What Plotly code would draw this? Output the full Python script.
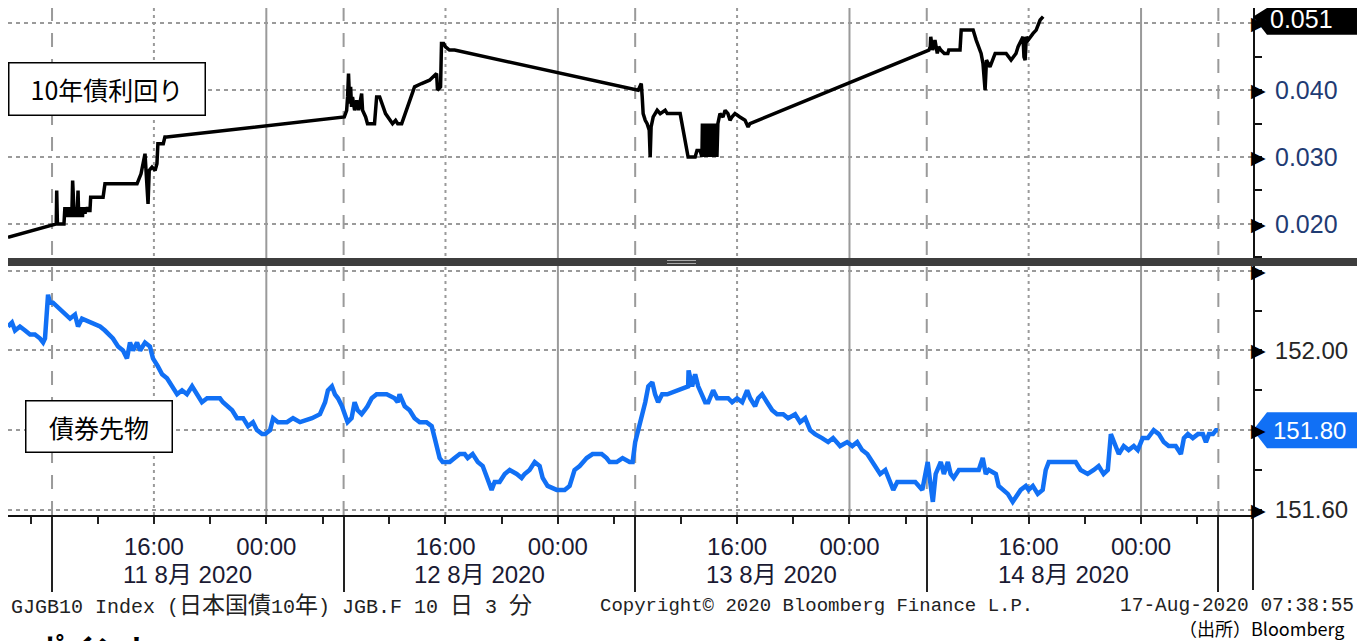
import plotly.graph_objects as go

# ---------------- data ----------------
yield_time = [
    "2020-08-11 02:22", "2020-08-11 08:50", "2020-08-11 09:03", "2020-08-11 09:05", "2020-08-11 09:08",
    "2020-08-11 09:36",
    "2020-08-11 09:38", "2020-08-11 09:40", "2020-08-11 09:42", "2020-08-11 09:44", "2020-08-11 09:46",
    "2020-08-11 09:48", "2020-08-11 09:50", "2020-08-11 09:52", "2020-08-11 09:54", "2020-08-11 09:56",
    "2020-08-11 09:58", "2020-08-11 10:00", "2020-08-11 10:02", "2020-08-11 10:04", "2020-08-11 10:06",
    "2020-08-11 10:08", "2020-08-11 10:10", "2020-08-11 10:13", "2020-08-11 10:16", "2020-08-11 10:18",
    "2020-08-11 10:20", "2020-08-11 10:22", "2020-08-11 10:24", "2020-08-11 10:26", "2020-08-11 10:28",
    "2020-08-11 10:30", "2020-08-11 10:33", "2020-08-11 10:36", "2020-08-11 10:39", "2020-08-11 10:41",
    "2020-08-11 10:43", "2020-08-11 10:45", "2020-08-11 10:47", "2020-08-11 10:49", "2020-08-11 10:51",
    "2020-08-11 10:53", "2020-08-11 10:55", "2020-08-11 10:57", "2020-08-11 11:00", "2020-08-11 11:03",
    "2020-08-11 11:06", "2020-08-11 11:09", "2020-08-11 11:12", "2020-08-11 11:16", "2020-08-11 11:20",
    "2020-08-11 11:27",
    "2020-08-11 11:30", "2020-08-11 12:23", "2020-08-11 12:31", "2020-08-11 14:48",
    "2020-08-11 15:05", "2020-08-11 15:22", "2020-08-11 15:27", "2020-08-11 15:35", "2020-08-11 15:40",
    "2020-08-11 15:52", "2020-08-11 16:05", "2020-08-11 16:13", "2020-08-11 16:17", "2020-08-11 16:40",
    "2020-08-11 16:47", "2020-08-11 16:55",
    "2020-08-12 08:48", "2020-08-12 08:58", "2020-08-12 09:02", "2020-08-12 09:06", "2020-08-12 09:11",
    "2020-08-12 09:15", "2020-08-12 09:19", "2020-08-12 09:23", "2020-08-12 09:32", "2020-08-12 09:41",
    "2020-08-12 09:49", "2020-08-12 10:02", "2020-08-12 10:06", "2020-08-12 10:19", "2020-08-12 10:27",
    "2020-08-12 10:57", "2020-08-12 11:06", "2020-08-12 11:19", "2020-08-12 11:44", "2020-08-12 12:14",
    "2020-08-12 12:27", "2020-08-12 12:36", "2020-08-12 12:53", "2020-08-12 13:48", "2020-08-12 14:18",
    "2020-08-12 14:52", "2020-08-12 15:22", "2020-08-12 15:26", "2020-08-12 15:39", "2020-08-12 15:43",
    "2020-08-12 15:52", "2020-08-12 16:00", "2020-08-12 16:17", "2020-08-12 16:39",
    "2020-08-13 08:58", "2020-08-13 09:06", "2020-08-13 09:11", "2020-08-13 09:15", "2020-08-13 09:19",
    "2020-08-13 09:28", "2020-08-13 09:36", "2020-08-13 09:45", "2020-08-13 09:49", "2020-08-13 09:53",
    "2020-08-13 10:02", "2020-08-13 10:19", "2020-08-13 10:32", "2020-08-13 10:53", "2020-08-13 11:02",
    "2020-08-13 11:57", "2020-08-13 12:10", "2020-08-13 12:31", "2020-08-13 13:01", "2020-08-13 13:09",
    "2020-08-13 13:22",
    "2020-08-13 13:30", "2020-08-13 13:32", "2020-08-13 13:34", "2020-08-13 13:36", "2020-08-13 13:38",
    "2020-08-13 13:40", "2020-08-13 13:42", "2020-08-13 13:44", "2020-08-13 13:46", "2020-08-13 13:48",
    "2020-08-13 13:50", "2020-08-13 13:52", "2020-08-13 13:54", "2020-08-13 13:56", "2020-08-13 13:58",
    "2020-08-13 14:00", "2020-08-13 14:02", "2020-08-13 14:04", "2020-08-13 14:06", "2020-08-13 14:08",
    "2020-08-13 14:10", "2020-08-13 14:12", "2020-08-13 14:14", "2020-08-13 14:16", "2020-08-13 14:18",
    "2020-08-13 14:20", "2020-08-13 14:22", "2020-08-13 14:24", "2020-08-13 14:26", "2020-08-13 14:28",
    "2020-08-13 14:30", "2020-08-13 14:32", "2020-08-13 14:34", "2020-08-13 14:38",
    "2020-08-13 14:47", "2020-08-13 15:00", "2020-08-13 15:09", "2020-08-13 15:21",
    "2020-08-13 15:30", "2020-08-13 15:38", "2020-08-13 15:51", "2020-08-13 16:12", "2020-08-13 16:34",
    "2020-08-13 16:47", "2020-08-13 16:55",
    "2020-08-14 08:54", "2020-08-14 09:00", "2020-08-14 09:02", "2020-08-14 09:10", "2020-08-14 09:20",
    "2020-08-14 09:30", "2020-08-14 09:36", "2020-08-14 09:45", "2020-08-14 10:00", "2020-08-14 10:15",
    "2020-08-14 10:19", "2020-08-14 11:07", "2020-08-14 11:12", "2020-08-14 12:03", "2020-08-14 12:16",
    "2020-08-14 12:37", "2020-08-14 12:45", "2020-08-14 12:54", "2020-08-14 13:00", "2020-08-14 13:15",
    "2020-08-14 13:37", "2020-08-14 14:24", "2020-08-14 14:45", "2020-08-14 15:06", "2020-08-14 15:15",
    "2020-08-14 15:36", "2020-08-14 15:40", "2020-08-14 15:45", "2020-08-14 15:50", "2020-08-14 15:58",
    "2020-08-14 16:19", "2020-08-14 16:32", "2020-08-14 16:49", "2020-08-14 17:02",
]
yield_value = [
    0.0180, 0.0200, 0.0200, 0.0250, 0.0200,
    0.0200,
    0.0215, 0.0225, 0.0210, 0.0225, 0.0215,
    0.0225, 0.0210, 0.0225, 0.0215, 0.0225,
    0.0210, 0.0225, 0.0215, 0.0225, 0.0210,
    0.0225, 0.0220, 0.0265, 0.0215, 0.0225,
    0.0210, 0.0225, 0.0215, 0.0225, 0.0210,
    0.0225, 0.0220, 0.0250, 0.0210, 0.0225,
    0.0215, 0.0225, 0.0210, 0.0225, 0.0215,
    0.0225, 0.0210, 0.0225, 0.0215, 0.0225,
    0.0215, 0.0225, 0.0220, 0.0225, 0.0220,
    0.0220,
    0.0240, 0.0240, 0.0260, 0.0260,
    0.0275, 0.0305, 0.0270, 0.0230, 0.0280,
    0.0285, 0.0280, 0.0290, 0.0320, 0.0320,
    0.0330, 0.0330,
    0.0360, 0.0370, 0.0390, 0.0425, 0.0380,
    0.0405, 0.0375, 0.0390, 0.0370, 0.0385,
    0.0370, 0.0395, 0.0370, 0.0360, 0.0350,
    0.0350, 0.0390, 0.0390, 0.0365, 0.0350,
    0.0355, 0.0350, 0.0350, 0.0405, 0.0410,
    0.0415, 0.0425, 0.0400, 0.0405, 0.0470,
    0.0470, 0.0465, 0.0460, 0.0460,
    0.0400, 0.0405, 0.0410, 0.0390, 0.0365,
    0.0355, 0.0350, 0.0340, 0.0300, 0.0345,
    0.0360, 0.0370, 0.0365, 0.0370, 0.0365,
    0.0365, 0.0340, 0.0300, 0.0300, 0.0310,
    0.0310,
    0.0300, 0.0350, 0.0310, 0.0350, 0.0300,
    0.0345, 0.0310, 0.0350, 0.0300, 0.0350,
    0.0315, 0.0350, 0.0300, 0.0345, 0.0310,
    0.0350, 0.0300, 0.0350, 0.0315, 0.0350,
    0.0300, 0.0350, 0.0310, 0.0350, 0.0300,
    0.0345, 0.0315, 0.0350, 0.0300, 0.0350,
    0.0310, 0.0350, 0.0300, 0.0350,
    0.0365, 0.0360, 0.0370, 0.0365,
    0.0355, 0.0360, 0.0365, 0.0360, 0.0355,
    0.0345, 0.0350,
    0.0460, 0.0465, 0.0480, 0.0460, 0.0475,
    0.0455, 0.0465, 0.0460, 0.0455, 0.0455,
    0.0460, 0.0460, 0.0490, 0.0490, 0.0475,
    0.0455, 0.0440, 0.0400, 0.0445, 0.0435,
    0.0455, 0.0455, 0.0445, 0.0455, 0.0465,
    0.0480, 0.0450, 0.0445, 0.0480, 0.0475,
    0.0485, 0.0490, 0.0505, 0.0510,
]

fut_time = [
    "2020-08-11 02:22", "2020-08-11 02:39", "2020-08-11 02:52", "2020-08-11 03:13", "2020-08-11 03:35",
    "2020-08-11 03:56", "2020-08-11 04:17", "2020-08-11 04:39", "2020-08-11 04:52", "2020-08-11 05:00",
    "2020-08-11 05:13", "2020-08-11 05:21", "2020-08-11 08:49", "2020-08-11 09:06", "2020-08-11 09:28",
    "2020-08-11 09:40", "2020-08-11 10:02", "2020-08-11 10:23", "2020-08-11 10:36", "2020-08-11 10:53",
    "2020-08-11 12:10", "2020-08-11 12:31", "2020-08-11 13:05", "2020-08-11 13:27", "2020-08-11 13:48",
    "2020-08-11 14:05", "2020-08-11 14:18", "2020-08-11 14:31", "2020-08-11 14:48", "2020-08-11 15:01",
    "2020-08-11 15:22", "2020-08-11 15:43", "2020-08-11 15:56", "2020-08-11 16:17", "2020-08-11 16:35",
    "2020-08-11 16:56", "2020-08-11 17:17", "2020-08-11 17:39", "2020-08-11 18:00", "2020-08-11 18:21",
    "2020-08-11 18:43", "2020-08-11 19:04", "2020-08-11 19:25", "2020-08-11 19:47", "2020-08-11 20:12",
    "2020-08-11 20:42", "2020-08-11 20:55", "2020-08-11 21:12", "2020-08-11 21:34", "2020-08-11 21:55",
    "2020-08-11 22:21", "2020-08-11 22:42", "2020-08-11 23:03", "2020-08-11 23:20", "2020-08-11 23:42",
    "2020-08-11 23:55", "2020-08-12 00:16", "2020-08-12 00:29", "2020-08-12 00:50", "2020-08-12 01:28",
    "2020-08-12 01:54", "2020-08-12 02:24", "2020-08-12 03:15", "2020-08-12 03:49", "2020-08-12 04:11",
    "2020-08-12 04:23", "2020-08-12 04:40", "2020-08-12 04:53", "2020-08-12 05:06", "2020-08-12 05:23",
    "2020-08-12 08:49", "2020-08-12 09:02", "2020-08-12 09:19", "2020-08-12 09:32", "2020-08-12 09:45",
    "2020-08-12 10:02", "2020-08-12 10:15", "2020-08-12 10:27", "2020-08-12 10:45", "2020-08-12 11:06",
    "2020-08-12 11:49", "2020-08-12 12:23", "2020-08-12 12:36", "2020-08-12 12:44", "2020-08-12 13:06",
    "2020-08-12 13:27", "2020-08-12 13:48", "2020-08-12 14:10", "2020-08-12 14:39", "2020-08-12 15:01",
    "2020-08-12 15:14", "2020-08-12 15:35", "2020-08-12 15:48", "2020-08-12 16:18", "2020-08-12 16:39",
    "2020-08-12 17:01", "2020-08-12 17:22", "2020-08-12 17:35", "2020-08-12 17:56", "2020-08-12 18:18",
    "2020-08-12 18:39", "2020-08-12 19:00", "2020-08-12 19:17", "2020-08-12 19:30", "2020-08-12 19:51",
    "2020-08-12 20:13", "2020-08-12 20:34", "2020-08-12 21:04", "2020-08-12 21:25", "2020-08-12 21:38",
    "2020-08-12 21:59", "2020-08-12 22:21", "2020-08-12 22:42", "2020-08-12 22:55", "2020-08-12 23:16",
    "2020-08-12 23:55", "2020-08-13 00:29", "2020-08-13 00:50", "2020-08-13 01:11", "2020-08-13 01:33",
    "2020-08-13 02:03", "2020-08-13 02:28", "2020-08-13 03:07", "2020-08-13 03:28", "2020-08-13 03:41",
    "2020-08-13 04:11", "2020-08-13 04:36", "2020-08-13 05:06", "2020-08-13 05:19",
    "2020-08-13 08:45", "2020-08-13 08:58", "2020-08-13 09:15", "2020-08-13 09:28", "2020-08-13 09:41",
    "2020-08-13 09:58", "2020-08-13 10:10", "2020-08-13 10:23", "2020-08-13 10:40", "2020-08-13 11:02",
    "2020-08-13 12:31", "2020-08-13 12:33", "2020-08-13 12:48", "2020-08-13 13:01", "2020-08-13 13:14",
    "2020-08-13 13:31", "2020-08-13 13:44", "2020-08-13 13:57", "2020-08-13 14:18", "2020-08-13 14:35",
    "2020-08-13 14:56", "2020-08-13 15:22", "2020-08-13 15:39", "2020-08-13 16:00", "2020-08-13 16:22",
    "2020-08-13 16:43", "2020-08-13 16:56", "2020-08-13 17:17", "2020-08-13 17:30", "2020-08-13 17:47",
    "2020-08-13 18:08", "2020-08-13 18:30", "2020-08-13 18:51", "2020-08-13 19:17", "2020-08-13 19:38",
    "2020-08-13 20:08", "2020-08-13 20:29", "2020-08-13 20:51", "2020-08-13 21:12", "2020-08-13 21:33",
    "2020-08-13 22:03", "2020-08-13 22:29", "2020-08-13 22:50", "2020-08-13 23:20", "2020-08-13 23:50",
    "2020-08-14 00:12", "2020-08-14 00:33", "2020-08-14 00:54", "2020-08-14 01:16", "2020-08-14 01:37",
    "2020-08-14 01:59", "2020-08-14 02:11", "2020-08-14 02:33", "2020-08-14 02:54", "2020-08-14 03:07",
    "2020-08-14 03:24", "2020-08-14 03:50", "2020-08-14 04:20", "2020-08-14 04:41", "2020-08-14 05:11",
    "2020-08-14 08:49", "2020-08-14 09:02", "2020-08-14 09:11", "2020-08-14 09:23", "2020-08-14 09:45",
    "2020-08-14 09:58", "2020-08-14 10:15", "2020-08-14 10:27", "2020-08-14 10:40", "2020-08-14 11:02",
    "2020-08-14 11:23", "2020-08-14 12:27", "2020-08-14 12:44", "2020-08-14 12:57", "2020-08-14 13:10",
    "2020-08-14 13:40", "2020-08-14 13:52", "2020-08-14 14:14", "2020-08-14 14:31", "2020-08-14 14:52",
    "2020-08-14 15:05", "2020-08-14 15:26", "2020-08-14 15:48", "2020-08-14 16:00", "2020-08-14 16:18",
    "2020-08-14 16:39", "2020-08-14 17:00", "2020-08-14 17:13", "2020-08-14 17:26", "2020-08-14 17:47",
    "2020-08-14 18:04", "2020-08-14 19:21", "2020-08-14 19:42", "2020-08-14 20:12", "2020-08-14 20:38",
    "2020-08-14 20:59", "2020-08-14 21:20", "2020-08-14 21:38", "2020-08-14 21:51", "2020-08-14 22:12",
    "2020-08-14 22:25", "2020-08-14 22:46", "2020-08-14 23:07", "2020-08-14 23:29", "2020-08-14 23:46",
    "2020-08-15 00:07", "2020-08-15 00:29", "2020-08-15 00:54", "2020-08-15 01:16", "2020-08-15 01:37",
    "2020-08-15 01:58", "2020-08-15 02:28", "2020-08-15 02:50", "2020-08-15 03:03", "2020-08-15 03:20",
    "2020-08-15 03:41", "2020-08-15 04:03", "2020-08-15 04:24", "2020-08-15 04:37", "2020-08-15 04:50",
    "2020-08-15 05:07", "2020-08-15 05:20", "2020-08-15 05:28",
]
fut_value = [
    152.06, 152.07, 152.05, 152.06, 152.05,
    152.04, 152.04, 152.03, 152.02, 152.03,
    152.14, 152.12, 152.12, 152.11, 152.10,
    152.09, 152.08, 152.09, 152.06, 152.08,
    152.06, 152.05, 152.03, 152.01, 152.00,
    151.98, 152.02, 152.00, 152.02, 152.00,
    152.02, 152.01, 151.98, 151.96, 151.94,
    151.93, 151.91, 151.89, 151.90, 151.89,
    151.91, 151.89, 151.87, 151.88, 151.88,
    151.88, 151.87, 151.86, 151.85, 151.83,
    151.83, 151.81, 151.82, 151.80, 151.79,
    151.79, 151.80, 151.83, 151.82, 151.82,
    151.83, 151.82, 151.83, 151.84, 151.87,
    151.90, 151.91, 151.89, 151.88, 151.86,
    151.84, 151.82, 151.83, 151.87, 151.85,
    151.84, 151.85, 151.86, 151.88, 151.89,
    151.89, 151.88, 151.87, 151.89, 151.86,
    151.85, 151.83, 151.82, 151.82, 151.81,
    151.78, 151.73, 151.72, 151.72, 151.73,
    151.74, 151.74, 151.73, 151.74, 151.72,
    151.71, 151.68, 151.65, 151.67, 151.67,
    151.69, 151.70, 151.69, 151.68, 151.69,
    151.70, 151.72, 151.71, 151.68, 151.66,
    151.65, 151.65, 151.66, 151.70, 151.71,
    151.73, 151.74, 151.74, 151.73, 151.72,
    151.72, 151.73, 151.72, 151.72,
    151.77, 151.80, 151.83, 151.87, 151.91,
    151.92, 151.89, 151.87, 151.89, 151.89,
    151.91, 151.95, 151.91, 151.94, 151.91,
    151.89, 151.87, 151.87, 151.90, 151.88,
    151.88, 151.88, 151.87, 151.88, 151.87,
    151.90, 151.88, 151.86, 151.88, 151.89,
    151.87, 151.85, 151.84, 151.84, 151.83,
    151.84, 151.82, 151.83, 151.80, 151.79,
    151.78, 151.77, 151.78, 151.76, 151.77,
    151.76, 151.77, 151.75, 151.74, 151.72,
    151.70, 151.69, 151.70, 151.67, 151.65,
    151.67, 151.67, 151.67, 151.67, 151.65,
    151.72, 151.66, 151.62, 151.69, 151.72,
    151.69, 151.72, 151.69, 151.68, 151.70,
    151.70, 151.70, 151.73, 151.69, 151.70,
    151.69, 151.66, 151.65, 151.64, 151.62,
    151.63, 151.65, 151.66, 151.65, 151.66,
    151.64, 151.65, 151.70, 151.72, 151.72,
    151.72, 151.72, 151.70, 151.69, 151.70,
    151.71, 151.69, 151.70, 151.79, 151.76,
    151.74, 151.76, 151.75, 151.76, 151.75,
    151.78, 151.78, 151.80, 151.79, 151.77,
    151.76, 151.76, 151.74, 151.78, 151.79,
    151.78, 151.79, 151.79, 151.77, 151.79,
    151.79, 151.80, 151.80,
]

top_tickvals = [0.020, 0.030, 0.040, 0.050]
top_ticktext = ["0.020", "0.030", "0.040", ""]
bot_tickvals = [151.60, 151.80, 152.00, 152.20]
bot_ticktext = ["151.60", "", "152.00", ""]

x_tickvals = [
    "2020-08-11 04:00", "2020-08-11 12:00", "2020-08-11 16:00", "2020-08-11 20:00",
    "2020-08-12 00:00", "2020-08-12 04:00", "2020-08-12 12:00", "2020-08-12 16:00", "2020-08-12 20:00",
    "2020-08-13 00:00", "2020-08-13 04:00", "2020-08-13 12:00", "2020-08-13 16:00", "2020-08-13 20:00",
    "2020-08-14 00:00", "2020-08-14 04:00", "2020-08-14 12:00", "2020-08-14 16:00", "2020-08-14 20:00",
    "2020-08-15 00:00", "2020-08-15 04:00",
]
x_ticktext = [
    "", "", "16:00", "",
    "00:00", "", "", "16:00", "",
    "00:00", "", "", "16:00", "",
    "00:00", "", "", "16:00", "",
    "00:00", "",
]
session_starts = ["2020-08-11 08:45", "2020-08-12 08:45", "2020-08-13 08:45",
                  "2020-08-14 08:45", "2020-08-17 08:45"]
afternoon_lines = ["2020-08-11 16:00", "2020-08-12 16:00", "2020-08-13 16:00", "2020-08-14 16:00"]
midnight_lines = ["2020-08-12 00:00", "2020-08-13 00:00", "2020-08-14 00:00", "2020-08-15 00:00"]
date_labels = ["11 8月 2020", "12 8月 2020", "13 8月 2020", "14 8月 2020"]
x_range = ["2020-08-11 02:22", "2020-08-17 11:13"]
top_range = [0.0149, 0.0523]
bot_range = [151.587, 152.212]
last_yield = "0.051"
last_fut = "151.80"

# ---------------- geometry (screen pixels; page body has an 8px margin) ----------------
OFF = 8
W, H = 1365 - OFF, 641 - OFF
PLOT_L, PLOT_R, PLOT_T, PLOT_B = 8, 1253, 8, 515      # screen px of the plot area
SEP_TOP, SEP_BOT = 258, 266
L = PLOT_L - OFF
T = PLOT_T - OFF
R = W - (PLOT_R - OFF)
B = H - (PLOT_B - OFF)
PW, PH = PLOT_R - PLOT_L, PLOT_B - PLOT_T


def px_x(px):
    return (px - PLOT_L) / PW


def px_y(py):
    return (PLOT_B - py) / PH


top_dom = [px_y(SEP_TOP), 1.0]
bot_dom = [0.0, px_y(SEP_BOT)]

HOUR = 3600 * 1000
breaks = [
    dict(values=["2020-08-11 05:30", "2020-08-12 05:30", "2020-08-13 05:30", "2020-08-14 05:30"],
         dvalue=3.25 * HOUR),
    dict(values=["2020-08-15 05:30"], dvalue=51.25 * HOUR),
]

BLUE = "#1170f5"
GRID = "#9a9a9a"
SANS = "Liberation Sans, Noto Sans CJK JP, sans-serif"
CJK = "Noto Sans CJK JP, sans-serif"
MONO = "Liberation Mono, Noto Sans Mono CJK JP, monospace"

fig = go.Figure()
fig.add_trace(go.Scatter(x=fut_time, y=fut_value, xaxis="x", yaxis="y", mode="lines",
                         line=dict(color=BLUE, width=4.5), hoverinfo="skip", showlegend=False))
fig.add_trace(go.Scatter(x=yield_time, y=yield_value, xaxis="x2", yaxis="y2", mode="lines",
                         line=dict(color="black", width=3.5), hoverinfo="skip", showlegend=False))

shapes = []
for t in session_starts:
    shapes.append(dict(type="line", xref="x", yref="paper", x0=t, x1=t, y0=0, y1=1,
                       line=dict(color=GRID, width=2, dash="14px,12px"), layer="below"))
for t in afternoon_lines:
    shapes.append(dict(type="line", xref="x", yref="paper", x0=t, x1=t, y0=0, y1=1,
                       line=dict(color=GRID, width=2, dash="3px,4px"), layer="below"))
for t in midnight_lines:
    shapes.append(dict(type="line", xref="x", yref="paper", x0=t, x1=t, y0=0, y1=1,
                       line=dict(color=GRID, width=2), layer="below"))

# separator bar between the panels
shapes.append(dict(type="rect", xref="paper", yref="paper", x0=px_x(OFF), x1=px_x(1365),
                   y0=px_y(SEP_BOT), y1=px_y(SEP_TOP), fillcolor="#3d3d3d", line=dict(width=0),
                   layer="above"))
for dy in (260.5, 263.5):
    shapes.append(dict(type="line", xref="paper", yref="paper", x0=px_x(667), x1=px_x(696),
                       y0=px_y(dy), y1=px_y(dy), line=dict(color="#a8a8a8", width=1), layer="above"))
# right axis line continues below the time axis
shapes.append(dict(type="line", xref="paper", yref="paper", x0=1, x1=1, y0=0, y1=px_y(590),
                   line=dict(color="#222", width=2), layer="above"))


def val_to_py(v, rng, top_px, bot_px):
    return top_px + (rng[1] - v) / (rng[1] - rng[0]) * (bot_px - top_px)


def marker_path(cy, right_px, top_clip):
    y0 = max(cy - 18, top_clip)
    y1 = cy + 18
    pts = [(PLOT_R, cy), (PLOT_R + 14, y0), (right_px, y0), (right_px, y1), (PLOT_R + 14, y1)]
    return "M " + " L ".join(f"{px_x(a):.5f},{px_y(b):.5f}" for a, b in pts) + " Z"


cy_top = val_to_py(float(last_yield), top_range, PLOT_T, SEP_TOP)
cy_bot = val_to_py(float(last_fut), bot_range, SEP_BOT, PLOT_B)
shapes.append(dict(type="path", xref="paper", yref="paper", path=marker_path(cy_top, 1357, PLOT_T),
                   fillcolor="black", line=dict(width=0), layer="above"))
shapes.append(dict(type="path", xref="paper", yref="paper", path=marker_path(cy_bot, 1365, 0),
                   fillcolor=BLUE, line=dict(width=0), layer="above"))

ann = []
# triangle tick markers on the value axes
for v in top_tickvals:
    ann.append(dict(text="▶", xref="paper", yref="y2", x=1, y=v, xanchor="left", xshift=-4,
                    showarrow=False, font=dict(family="DejaVu Sans", size=19, color="black")))
for v in bot_tickvals:
    ann.append(dict(text="▶", xref="paper", yref="y", x=1, y=v, xanchor="left", xshift=-4,
                    showarrow=False, font=dict(family="DejaVu Sans", size=19, color="black")))
# last value texts
ann.append(dict(text=last_yield, xref="paper", yref="y2", x=px_x(1268), y=float(last_yield),
                xanchor="left", showarrow=False, yshift=-2,
                font=dict(family=SANS, size=25, color="white")))
ann.append(dict(text=last_fut, xref="paper", yref="y", x=px_x(1271), y=float(last_fut),
                xanchor="left", showarrow=False,
                font=dict(family=SANS, size=24, color="white")))
# series labels
ann.append(dict(text="10年債利回り", xref="paper", yref="paper", x=px_x(8), y=px_y(62),
                xanchor="left", yanchor="top", showarrow=False, width=191, height=47,
                bgcolor="white", bordercolor="black", borderwidth=1.5, borderpad=2,
                font=dict(family=CJK, size=25, color="black")))
ann.append(dict(text="債券先物", xref="paper", yref="paper", x=px_x(25), y=px_y(400),
                xanchor="left", yanchor="top", showarrow=False, width=141, height=46,
                bgcolor="white", bordercolor="black", borderwidth=1.5, borderpad=2,
                font=dict(family=CJK, size=25, color="black")))
# date row under the time labels
for t, lab in zip(afternoon_lines, date_labels):
    ann.append(dict(text=lab, xref="x", yref="paper", x=t, y=px_y(574), xanchor="left",
                    yanchor="middle", xshift=-33, showarrow=False,
                    font=dict(family=SANS, size=24, color="#1a1a33")))


def wide(s):
    return f'<span style="font-size:23px">{s}</span>'


footer_left = ("GJGB10 Index (" + wide("日本国債") + "10" + wide("年") + ") JGB.F 10 "
               + wide("日") + " 3 " + wide("分"))
ann.append(dict(text=footer_left, xref="paper", yref="paper",
                x=px_x(9), y=px_y(606), xanchor="left", yanchor="middle", showarrow=False,
                font=dict(family=MONO, size=20, color="#222")))
ann.append(dict(text="Copyright© 2020 Bloomberg Finance L.P.", xref="paper", yref="paper",
                x=px_x(598), y=px_y(606), xanchor="left", yanchor="middle", showarrow=False,
                font=dict(family=MONO, size=19, color="#222")))
ann.append(dict(text="17-Aug-2020 07:38:55", xref="paper", yref="paper",
                x=px_x(1356), y=px_y(606), xanchor="right", yanchor="middle", showarrow=False,
                font=dict(family=MONO, size=19.5, color="#222")))
ann.append(dict(text="（出所）Bloomberg", xref="paper", yref="paper",
                x=px_x(1346), y=px_y(628), xanchor="right", yanchor="middle", showarrow=False,
                font=dict(family=CJK, size=18, color="black")))
ann.append(dict(text="<b>ポイント</b>", xref="paper", yref="paper",
                x=px_x(33), y=px_y(623), xanchor="left", yanchor="top", showarrow=False,
                font=dict(family=CJK, size=30, color="black")))

xcommon = dict(type="date", range=x_range, rangebreaks=breaks, domain=[0, 1], showgrid=False,
               zeroline=False)

fig.update_layout(
    width=W, height=H, margin=dict(l=L, r=R, t=T, b=B),
    paper_bgcolor="white", plot_bgcolor="white", showlegend=False,
    xaxis=dict(**xcommon, anchor="y", showline=True, linecolor="#111", linewidth=2,
               ticks="outside", ticklen=7, tickwidth=2, tickcolor="#222",
               tickmode="array", tickvals=x_tickvals, ticktext=x_ticktext,
               tickfont=dict(family=SANS, size=24, color="#1a1a33"),
               ticklabelstandoff=2,
               minor=dict(tickmode="array", tickvals=session_starts, ticks="outside",
                          ticklen=75, tickwidth=2, tickcolor="#222", showgrid=False)),
    xaxis2=dict(**xcommon, anchor="y2", matches="x", showticklabels=False, ticks="",
                showline=False),
    yaxis=dict(domain=bot_dom, anchor="x", side="right", range=bot_range,
               tickmode="array", tickvals=bot_tickvals, ticktext=bot_ticktext,
               ticks="outside", ticklen=15, tickcolor="rgba(0,0,0,0)",
               tickfont=dict(family=SANS, size=24, color="#262626"),
               showline=True, linecolor="#111", linewidth=2, zeroline=False,
               showgrid=True, gridcolor=GRID, gridwidth=1.5, griddash="4px,4px",
               minor=dict(tickmode="linear", tick0=151.6, dtick=0.1, ticks="outside",
                          ticklen=7, tickwidth=2, tickcolor="#111", showgrid=False)),
    yaxis2=dict(domain=top_dom, anchor="x2", side="right", range=top_range,
                tickmode="array", tickvals=top_tickvals, ticktext=top_ticktext,
                ticks="outside", ticklen=15, tickcolor="rgba(0,0,0,0)",
                tickfont=dict(family=SANS, size=25, color="#1f3b73"),
                showline=True, linecolor="#111", linewidth=2, zeroline=False,
                showgrid=True, gridcolor=GRID, gridwidth=1.5, griddash="4px,4px",
                minor=dict(tickmode="linear", tick0=0.0, dtick=0.005, ticks="outside",
                           ticklen=7, tickwidth=2, tickcolor="#111", showgrid=False)),
    shapes=shapes, annotations=ann,
)

fig.write_html("out.html", config={"displayModeBar": False})
